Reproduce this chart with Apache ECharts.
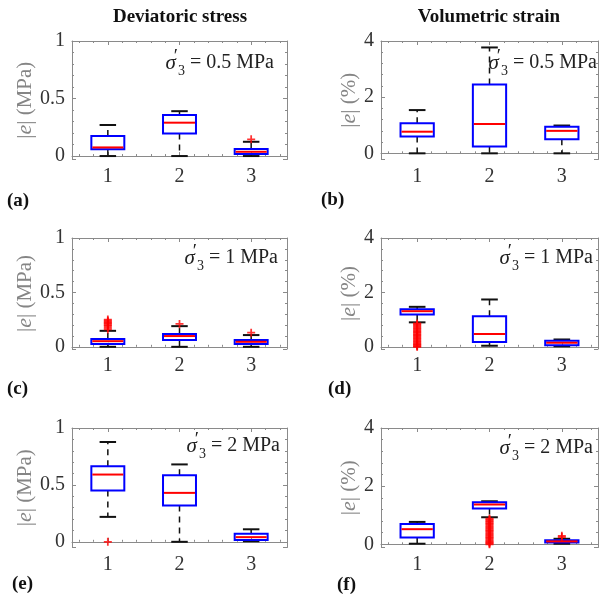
<!DOCTYPE html>
<html><head><meta charset="utf-8">
<script src="https://cdn.jsdelivr.net/npm/echarts@6/dist/echarts.min.js"></script>
<style>html,body{margin:0;padding:0;background:#fff}#c{width:601px;height:596px}</style>
</head><body><div id="c"></div>
<script>
// ---------- data ----------
const categories = ['1', '2', '3'];
// each row: [lower whisker, Q1, median, Q3, upper whisker]
const statsA = [[0, 0.06, 0.075, 0.174, 0.27], [0, 0.197, 0.29, 0.357, 0.39], [0, 0.017, 0.037, 0.061, 0.124]];
const statsB = [[0, 0.60, 0.77, 1.07, 1.54], [0, 0.24, 1.04, 2.45, 3.77], [0, 0.50, 0.80, 0.95, 0.99]];
const statsC = [[0, 0.025, 0.052, 0.071, 0.147], [0, 0.062, 0.099, 0.117, 0.19], [0, 0.025, 0.046, 0.062, 0.108]];
const statsD = [[0.9, 1.19, 1.31, 1.38, 1.47], [0.04, 0.18, 0.47, 1.12, 1.74], [0.02, 0.06, 0.15, 0.22, 0.27]];
const statsE = [[0.219, 0.451, 0.591, 0.664, 0.877], [0, 0.32, 0.43, 0.585, 0.68], [0.005, 0.015, 0.041, 0.07, 0.11]];
const statsF = [[0.02, 0.23, 0.52, 0.70, 0.77], [0.93, 1.23, 1.37, 1.45, 1.48], [0.02, 0.06, 0.10, 0.14, 0.19]];
// outliers per category
const outliersA = [[], [], [0.145]];
const outliersB = [[], [], []];
const outliersC = [[0.16, 0.175, 0.19, 0.2, 0.21, 0.22, 0.23, 0.24, 0.25], [0.21], [0.13]];
const outliersD = [[0.86, 0.83, 0.79, 0.75, 0.71, 0.67, 0.63, 0.59, 0.55, 0.51, 0.47, 0.43, 0.39, 0.35, 0.31, 0.27, 0.23, 0.19, 0.15, 0.11, 0.08, 0.05, 0.02, 0.0], [], []];
const outliersE = [[0.0], [], []];
const outliersF = [[], [0.88, 0.85, 0.81, 0.77, 0.73, 0.69, 0.65, 0.61, 0.57, 0.53, 0.49, 0.45, 0.41, 0.37, 0.33, 0.29, 0.25, 0.21, 0.17, 0.13, 0.09, 0.06, 0.03, 0.0], [0.25, 0.29]];
// y-axis ranges
const yRangeA = [-0.03, 1], yRangeB = [-0.22, 4], yRangeC = [-0.02, 1];
const yRangeD = [-0.08, 4], yRangeE = [-0.05, 1], yRangeF = [-0.11, 4];
const columnTitles = ['Deviatoric stress', 'Volumetric strain'];
const panelLetters = ['(a)', '(b)', '(c)', '(d)', '(e)', '(f)'];
const sigmaValues = ['0.5', '0.5', '1', '1', '2', '2'];
const yUnits = ['MPa', '%'];

// ---------- layout ----------
const FONT = '"Liberation Serif", "Times New Roman", serif';
const colLeft = [72, 381], colWidth = [215, 219];
const rowTop = [41, 238, 428], rowHeight = [118.5, 111, 119.5];
const panels = [
  {stats: statsA, out: outliersA, yr: yRangeA, col: 0, row: 0},
  {stats: statsB, out: outliersB, yr: yRangeB, col: 1, row: 0},
  {stats: statsC, out: outliersC, yr: yRangeC, col: 0, row: 1},
  {stats: statsD, out: outliersD, yr: yRangeD, col: 1, row: 1},
  {stats: statsE, out: outliersE, yr: yRangeE, col: 0, row: 2},
  {stats: statsF, out: outliersF, yr: yRangeF, col: 1, row: 2}
];
const AX = '#8a8a8a';

function renderBox(params, api) {
  const x = api.value(0);
  const lo = api.coord([x, api.value(1)]);
  const q1 = api.coord([x, api.value(2)]);
  const md = api.coord([x, api.value(3)]);
  const q3 = api.coord([x, api.value(4)]);
  const hi = api.coord([x, api.value(5)]);
  const bw = api.size([1, 0])[0] * 0.46;
  const cx = md[0], h = bw / 2, c = bw / 4;
  const dash = {stroke: '#111', lineWidth: 1.5, lineDash: [6, 5]};
  const cap = {stroke: '#111', lineWidth: 2};
  return {type: 'group', children: [
    {type: 'line', shape: {x1: cx, y1: q3[1], x2: cx, y2: hi[1]}, style: dash},
    {type: 'line', shape: {x1: cx, y1: q1[1], x2: cx, y2: lo[1]}, style: dash},
    {type: 'line', shape: {x1: cx - c, y1: hi[1], x2: cx + c, y2: hi[1]}, style: cap},
    {type: 'line', shape: {x1: cx - c, y1: lo[1], x2: cx + c, y2: lo[1]}, style: cap},
    {type: 'rect', shape: {x: cx - h, y: q3[1], width: bw, height: q1[1] - q3[1]}, style: {fill: 'none', stroke: '#0000ff', lineWidth: 2}},
    {type: 'line', shape: {x1: cx - h + 1, y1: md[1], x2: cx + h - 1, y2: md[1]}, style: {stroke: '#ff0000', lineWidth: 2}}
  ]};
}

const PLUS = 'path://M-1,-0.22 L-0.22,-0.22 L-0.22,-1 L0.22,-1 L0.22,-0.22 L1,-0.22 L1,0.22 L0.22,0.22 L0.22,1 L-0.22,1 L-0.22,0.22 L-1,0.22 Z';

const grid = [], xAxis = [], yAxis = [], series = [], graphic = [];
panels.forEach((p, i) => {
  grid.push({left: colLeft[p.col], width: colWidth[p.col], top: rowTop[p.row], height: rowHeight[p.row]});
  const step = p.yr[1] >= 4 ? 2 : 0.5;
  xAxis.push({gridIndex: i, type: 'category', data: categories, show: false});
  const xv = {
    gridIndex: i, type: 'value', min: 0.5, max: 3.5, splitNumber: 3,
    axisLine: {show: true, lineStyle: {color: AX, width: 1}},
    axisTick: {show: true, inside: true, length: 4, lineStyle: {color: AX}},
    minorTick: {show: true, splitNumber: 5, length: 2, lineStyle: {color: AX}},
    splitLine: {show: false},
    axisLabel: {show: true, margin: 7, fontFamily: FONT, fontSize: 20, color: '#333',
      formatter: v => Math.abs(v - Math.round(v)) < 1e-9 ? String(Math.round(v)) : ''}
  };
  xAxis.push(Object.assign({}, xv, {position: 'bottom'}));
  xAxis.push(Object.assign({}, xv, {position: 'top', axisLabel: {show: false}}));
  const yv = {
    gridIndex: i, type: 'value', min: p.yr[0], max: p.yr[1], splitNumber: 2,
    axisLine: {show: true, lineStyle: {color: AX, width: 1}},
    axisTick: {show: true, inside: true, length: 4, lineStyle: {color: AX}},
    minorTick: {show: true, splitNumber: 5, length: 2, lineStyle: {color: AX}},
    splitLine: {show: false}
  };
  yAxis.push(Object.assign({}, yv, {
    position: 'left',
    axisLabel: {show: true, margin: 7, fontFamily: FONT, fontSize: 20, color: '#333',
      formatter: v => Math.abs(v / step - Math.round(v / step)) < 1e-6 ? String(Math.round(v / step) * step) : ''},
    name: '{a||}{e|e}{a|| (' + yUnits[p.col] + ')}',
    nameLocation: 'middle', nameRotate: 90, nameGap: p.col === 0 ? 35 : 19,
    nameTextStyle: {color: '#858585', fontFamily: FONT, fontSize: 21,
      rich: {a: {color: '#858585', fontFamily: FONT, fontSize: 21},
             e: {color: '#858585', fontFamily: FONT, fontSize: 22, fontStyle: 'italic'}}}
  }));
  yAxis.push(Object.assign({}, yv, {position: 'right', axisLabel: {show: false}}));

  series.push({
    type: 'custom', xAxisIndex: 3 * i, yAxisIndex: 2 * i,
    renderItem: renderBox,
    encode: {x: 0, y: [1, 2, 3, 4, 5]},
    data: p.stats.map((s, k) => [k].concat(s)),
    z: 2
  });
  const od = [];
  p.out.forEach((arr, k) => arr.forEach(v => od.push([k, v])));
  series.push({
    type: 'scatter', xAxisIndex: 3 * i, yAxisIndex: 2 * i,
    symbol: PLUS, symbolSize: 8, itemStyle: {color: '#ff0000'},
    data: od, z: 3
  });
});

// annotations sigma'_3 = ...
const annot = [[274, 63], [597, 63], [278, 258], [593, 258], [280, 446], [593, 448]];
panels.forEach((p, i) => {
  graphic.push({
    type: 'text', x: annot[i][0], y: annot[i][1], z: 10,
    style: {
      text: '{s|σ}{p|′}{b|3}{t| = ' + sigmaValues[i] + ' MPa}',
      align: 'right', verticalAlign: 'middle',
      rich: {
        s: {fontFamily: FONT, fontSize: 21, fontStyle: 'italic', fill: '#222', lineHeight: 30},
        p: {fontFamily: FONT, fontSize: 19, fill: '#222', verticalAlign: 'top', lineHeight: 20, width: 2},
        b: {fontFamily: FONT, fontSize: 14, fill: '#222', verticalAlign: 'bottom', lineHeight: 16},
        t: {fontFamily: FONT, fontSize: 20, fill: '#222', lineHeight: 30}
      }
    }
  });
});
// column titles
[[180, 17], [489, 17]].forEach((pt, k) => graphic.push({
  type: 'text', x: pt[0], y: pt[1],
  style: {text: columnTitles[k], font: 'bold 19px ' + FONT, fill: '#111', align: 'center', verticalAlign: 'middle'}
}));
// panel letters
const letterPos = [[7, 201], [321, 200], [7, 389], [328, 389], [12, 584], [337, 585]];
panelLetters.forEach((t, k) => graphic.push({
  type: 'text', x: letterPos[k][0], y: letterPos[k][1],
  style: {text: t, font: 'bold 19px ' + FONT, fill: '#111', align: 'left', verticalAlign: 'middle'}
}));

const chart = echarts.init(document.getElementById('c'), null, {renderer: 'canvas'});
chart.setOption({animation: false, backgroundColor: '#fff', grid, xAxis, yAxis, series, graphic});
</script>
</body></html>
